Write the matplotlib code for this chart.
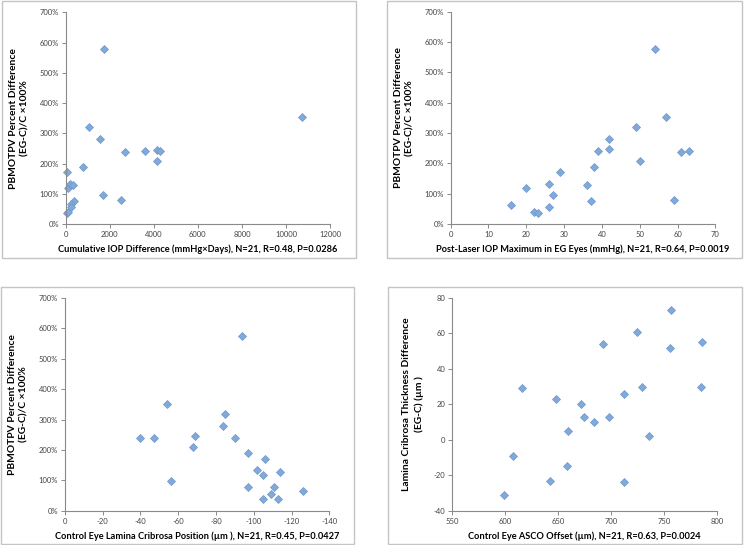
import matplotlib
matplotlib.use("Agg")
import matplotlib.pyplot as plt
from matplotlib.patches import Rectangle
from matplotlib.ticker import FuncFormatter
import numpy as np

plt.rcParams['font.family'] = ['Lato', 'DejaVu Sans']
plt.rcParams['axes.unicode_minus'] = False

# PBMOTPV percent difference (EG-C)/C x100% for the 21 animals
pbmotpv_pct = [171, 118, 133, 128, 76, 66, 55, 37, 39, 189, 320,
               280, 578, 96, 238, 240, 209, 246, 240, 79, 353]

# panel A: cumulative IOP difference
cum_iop = [45, 121, 197, 318, 378, 242, 227, 45, 121, 802, 1044,
           1573, 1755, 1694, 2693, 3616, 4130, 4160, 4297, 2511, 10726]

# panel B: post-laser IOP maximum (own ordering)
iop_max = [16, 20, 22, 23, 26, 26, 27, 29, 36, 37, 38,
           39, 42, 42, 49, 50, 54, 57, 59, 61, 63]
iop_max_pct = [64, 118, 39, 35, 55, 133, 97, 171, 128, 76, 189,
               240, 280, 246, 320, 209, 578, 353, 79, 238, 240]

# panel C: control eye lamina cribrosa position
lc_pos = [-40, -47, -54, -56, -68, -69, -84, -85, -90, -97, -97,
          -102, -105, -106, -105, -109, -111, -113, -114, -126, -94]
lc_pos_pct = [238, 240, 352, 98, 209, 246, 279, 318, 240, 189, 79,
              134, 119, 170, 40, 55, 77, 37, 128, 64, 576]

# panel D: control eye ASCO offset vs lamina thickness difference
asco = [599, 607, 616, 642, 648, 658, 659, 671, 674, 684, 692,
        698, 712, 712, 724, 729, 736, 756, 755, 786, 785]
lc_thick = [-31, -9, 29, -23, 23, -15, 5, 20, 13, 10, 54,
            13, 26, -24, 61, 30, 2, 73, 52, 55, 30]

W, H = 744, 545
fig = plt.figure(figsize=(W / 100, H / 100), dpi=100)

# light gray chart frames (Excel style), pixel boxes
frames = [(2, 1, 356, 258), (387, 1, 742, 258), (1, 287, 354, 544), (388, 287, 742, 544)]
for x0, y0, x1, y1 in frames:
    fig.patches.append(Rectangle((x0 / W, 1 - y1 / H), (x1 - x0) / W, (y1 - y0) / H,
                                 transform=fig.transFigure, fill=False,
                                 edgecolor='#c4c4c4', linewidth=1.0))


def make_axes(px_left, px_right, px_top, px_bottom):
    return fig.add_axes([px_left / W, 1 - px_bottom / H,
                         (px_right - px_left) / W, (px_bottom - px_top) / H])


def style(ax, xlabel, ylabel):
    for s in ['top', 'right']:
        ax.spines[s].set_visible(False)
    for s in ['left', 'bottom']:
        ax.spines[s].set_color('#8a8a8a')
        ax.spines[s].set_linewidth(0.8)
    ax.tick_params(direction='out', length=3, width=0.7, color='#8a8a8a',
                   labelsize=5.5, labelcolor='#444444', pad=2)
    ax.set_xlabel(xlabel, fontsize=6.7, fontweight='bold', labelpad=5)
    ax.set_ylabel(ylabel, fontsize=7.4, fontweight='bold', labelpad=7, linespacing=1.4)


def scatter(ax, x, y):
    ax.plot(x, y, linestyle='none', marker='D', markersize=4.2,
            markerfacecolor='#80a9dc', markeredgecolor='#6c95c9',
            markeredgewidth=0.5, clip_on=False)


pct_fmt = FuncFormatter(lambda v, p: f"{v:.0f}%")
ylab_pct = "PBMOTPV Percent Difference\n(EG-C)/C ×100%"

ax1 = make_axes(65.7, 330, 12.3, 224)
scatter(ax1, cum_iop, pbmotpv_pct)
ax1.set_xlim(0, 12000)
ax1.set_xticks(np.arange(0, 12001, 2000))
ax1.set_ylim(0, 700)
ax1.set_yticks(np.arange(0, 701, 100))
ax1.yaxis.set_major_formatter(pct_fmt)
style(ax1, "Cumulative IOP Difference (mmHg×Days), N=21, R=0.48, P=0.0286", ylab_pct)

ax2 = make_axes(450.7, 715.3, 11.7, 224)
scatter(ax2, iop_max, iop_max_pct)
ax2.set_xlim(0, 70)
ax2.set_xticks(np.arange(0, 71, 10))
ax2.set_ylim(0, 700)
ax2.set_yticks(np.arange(0, 701, 100))
ax2.yaxis.set_major_formatter(pct_fmt)
style(ax2, "Post-Laser IOP Maximum in EG Eyes (mmHg), N=21, R=0.64, P=0.0019", ylab_pct)

ax3 = make_axes(64.7, 329.3, 298, 510.7)
scatter(ax3, lc_pos, lc_pos_pct)
ax3.set_xlim(0, -140)
ax3.set_xticks(np.arange(0, -141, -20))
ax3.set_ylim(0, 700)
ax3.set_yticks(np.arange(0, 701, 100))
ax3.yaxis.set_major_formatter(pct_fmt)
style(ax3, "Control Eye Lamina Cribrosa Position (µm ), N=21, R=0.45, P=0.0427", ylab_pct)

ax4 = make_axes(452.3, 717.3, 298, 510.7)
scatter(ax4, asco, lc_thick)
ax4.set_xlim(550, 800)
ax4.set_xticks(np.arange(550, 801, 50))
ax4.set_ylim(-40, 80)
ax4.set_yticks(np.arange(-40, 81, 20))
style(ax4, "Control Eye ASCO Offset (µm), N=21, R=0.63, P=0.0024",
      "Lamina Cribrosa Thickness Difference\n(EG-C) (µm )")

fig.savefig("out.png", dpi=100)
